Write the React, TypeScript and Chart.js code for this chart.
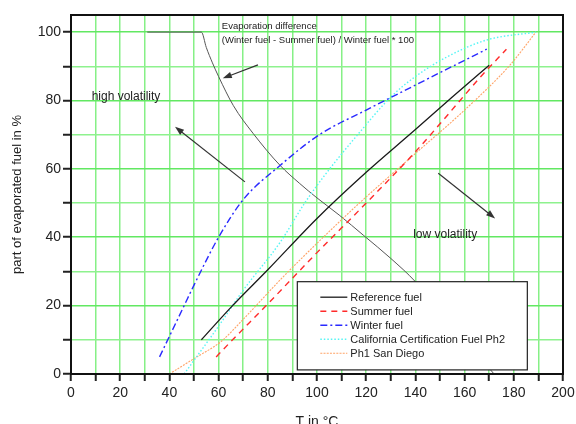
import { useEffect, useRef } from 'react';
import { Chart, registerables } from 'chart.js';

Chart.register(...registerables);

// ---- data (x = temperature in °C, y = part of evaporated fuel in %) ----
const refX = [53, 65, 80, 100, 120, 140, 155, 170];
const refY = [10, 19.5, 30.5, 45.5, 59, 71.5, 81, 90.3];

const summerX = [59, 65, 80, 100, 120, 140, 151, 166, 177];
const summerY = [5, 9.5, 20.5, 35.5, 50, 65, 74, 86.5, 95];

const winterX = [36, 40, 46, 50, 60, 70, 85, 101, 120, 140, 151, 169];
const winterY = [5, 11, 20, 26, 40, 51, 61, 70, 77.2, 84.5, 88.5, 95];

const califX = [46, 60, 70, 85, 95, 103, 117, 130, 140, 153, 169, 189];
const califY = [0, 14, 24.5, 38.5, 50, 58, 70.4, 81, 87, 92.8, 97.7, 100];

const sanDiegoX = [40, 50, 61, 70, 85, 93, 112, 118, 140, 160, 178.5, 189];
const sanDiegoY = [0, 4.5, 9.5, 16, 27.5, 33.3, 46.5, 50.5, 64.5, 77.2, 90.4, 100];

const evapX = [31, 53, 55, 57.5, 60, 66, 74, 85, 93, 100, 109, 119, 130, 140, 155, 172];
const evapY = [100, 100, 95.5, 91, 87, 78.5, 70.4, 61, 55.7, 51.5, 46.5, 40.5, 33.8, 27, 14, 0];

const seriesLabels = [
  'Reference fuel',
  'Summer fuel',
  'Winter fuel',
  'California Certification Fuel Ph2',
  'Ph1 San Diego',
];

const xTickLabels = [0, 20, 40, 60, 80, 100, 120, 140, 160, 180, 200];
const yTickLabels = [0, 20, 40, 60, 80, 100];

const annotationTexts = [
  { text: 'Evaporation difference', x: 61.3, y: 101.6, size: 9.5 },
  { text: '(Winter fuel - Summer fuel) / Winter fuel * 100', x: 61.3, y: 97.5, size: 9.5 },
  { text: 'high volatility', x: 8.4, y: 81.1, size: 12 },
  { text: 'low volatility', x: 139.1, y: 40.8, size: 12 },
];

const arrows = [
  { x1: 76, y1: 90.4, x2: 61.7, y2: 86.5 },
  { x1: 70.7, y1: 56.2, x2: 42.3, y2: 72.3 },
  { x1: 149.3, y1: 58.7, x2: 172.4, y2: 45.5 },
];

const FONT = '"Liberation Sans", Arial, sans-serif';

const styles = [
  { color: '#1a1a1a', dash: [] as number[], width: 1.3 },
  { color: '#ff2a2a', dash: [6, 5], width: 1.4 },
  { color: '#2a2aff', dash: [7, 3, 2, 3], width: 1.4 },
  { color: '#55f5f5', dash: [1.5, 2], width: 1.4 },
  { color: '#ffa366', dash: [2, 1.2], width: 1.1 },
];

const pts = (xs: number[], ys: number[]) => xs.map((x, i) => ({ x, y: ys[i] }));

const overlay = {
  id: 'overlay',
  afterDatasetsDraw(chart: any) {
    const { ctx, scales } = chart;
    const xs = scales.x;
    const ys = scales.y;
    ctx.save();
    // arrows
    ctx.strokeStyle = '#333';
    ctx.fillStyle = '#333';
    ctx.lineWidth = 1.2;
    ctx.setLineDash([]);
    arrows.forEach((a) => {
      const px1 = xs.getPixelForValue(a.x1);
      const py1 = ys.getPixelForValue(a.y1);
      const px2 = xs.getPixelForValue(a.x2);
      const py2 = ys.getPixelForValue(a.y2);
      const ang = Math.atan2(py2 - py1, px2 - px1);
      const L = 9;
      const W = 3.2;
      ctx.beginPath();
      ctx.moveTo(px1, py1);
      ctx.lineTo(px2 - Math.cos(ang) * L * 0.8, py2 - Math.sin(ang) * L * 0.8);
      ctx.stroke();
      ctx.beginPath();
      ctx.moveTo(px2, py2);
      ctx.lineTo(px2 - Math.cos(ang) * L - Math.sin(ang) * W, py2 - Math.sin(ang) * L + Math.cos(ang) * W);
      ctx.lineTo(px2 - Math.cos(ang) * L + Math.sin(ang) * W, py2 - Math.sin(ang) * L - Math.cos(ang) * W);
      ctx.closePath();
      ctx.fill();
    });
    // texts
    ctx.fillStyle = '#222';
    ctx.textAlign = 'left';
    ctx.textBaseline = 'middle';
    annotationTexts.forEach((t) => {
      ctx.font = `${t.size}px ${FONT}`;
      ctx.fillText(t.text, xs.getPixelForValue(t.x), ys.getPixelForValue(t.y));
    });
    // legend box
    const bl = xs.getPixelForValue(92);
    const br = xs.getPixelForValue(185.5);
    const bt = ys.getPixelForValue(27);
    const bb = ys.getPixelForValue(1.2);
    ctx.fillStyle = '#fff';
    ctx.fillRect(bl, bt, br - bl, bb - bt);
    ctx.strokeStyle = '#222';
    ctx.lineWidth = 1.2;
    ctx.strokeRect(bl, bt, br - bl, bb - bt);
    ctx.font = `11px ${FONT}`;
    seriesLabels.forEach((lab, i) => {
      const yy = bt + 15.5 + i * 14;
      const s = styles[i];
      ctx.strokeStyle = s.color;
      ctx.lineWidth = s.width;
      ctx.setLineDash(s.dash);
      ctx.beginPath();
      ctx.moveTo(bl + 23, yy);
      ctx.lineTo(bl + 50, yy);
      ctx.stroke();
      ctx.setLineDash([]);
      ctx.fillStyle = '#222';
      ctx.fillText(lab, bl + 53, yy + 0.5);
    });
    ctx.restore();
  },
  afterDraw(chart: any) {
    const { ctx, chartArea } = chart;
    ctx.save();
    ctx.strokeStyle = '#111';
    ctx.lineWidth = 2;
    ctx.setLineDash([]);
    ctx.strokeRect(chartArea.left, chartArea.top, chartArea.right - chartArea.left, chartArea.bottom - chartArea.top);
    ctx.restore();
  },
};

export default function App() {
  const ref = useRef<HTMLCanvasElement>(null);
  useEffect(() => {
    if (!ref.current) return;
    const mk = (i: number, xs: number[], ys: number[]) => ({
      label: seriesLabels[i],
      data: pts(xs, ys),
      borderColor: styles[i].color,
      borderWidth: styles[i].width,
      borderDash: styles[i].dash,
      pointRadius: 0,
      fill: false,
      cubicInterpolationMode: 'monotone' as const,
    });
    const chart = new Chart(ref.current, {
      type: 'line',
      data: {
        datasets: [
          mk(0, refX, refY),
          mk(1, summerX, summerY),
          mk(2, winterX, winterY),
          mk(3, califX, califY),
          mk(4, sanDiegoX, sanDiegoY),
          {
            label: 'Evaporation difference',
            data: pts(evapX, evapY),
            borderColor: '#555',
            borderWidth: 1,
            pointRadius: 0,
            fill: false,
            cubicInterpolationMode: 'monotone' as const,
          },
        ],
      },
      options: {
        animation: false,
        responsive: false,
        maintainAspectRatio: false,
        layout: { padding: { top: 15, right: 13, bottom: 0, left: 0 } },
        plugins: { legend: { display: false }, tooltip: { enabled: false } },
        scales: {
          x: {
            type: 'linear',
            min: 0,
            max: 200,
            ticks: {
              stepSize: 10,
              autoSkip: false,
              maxRotation: 0,
              padding: 4,
              color: '#222',
              font: { family: FONT, size: 14 },
              callback: (v: any) => (xTickLabels.includes(Number(v)) ? String(v) : ''),
            },
            afterBuildTicks: (s: any) => {
              s.ticks = s.ticks.filter((t: any) => t.value % 10 === 0);
            },
            afterFit: (s: any) => {
              s.height = 50;
              s.paddingLeft = 0;
              s.paddingRight = 0;
            },
            grid: {
              color: '#86f086',
              lineWidth: 1.5,
              tickColor: '#222',
              tickLength: 7,
              tickWidth: 2,
            },
            border: { display: true, color: '#111', width: 2 },
            title: {
              display: true,
              text: 'T in °C',
              color: '#222',
              font: { family: FONT, size: 14 },
              padding: { top: 0, bottom: -7 },
            },
          },
          y: {
            type: 'linear',
            min: 0,
            max: 105,
            ticks: {
              stepSize: 10,
              autoSkip: false,
              padding: 2,
              color: '#222',
              font: { family: FONT, size: 14 },
              callback: (v: any) => (yTickLabels.includes(Number(v)) ? String(v) : ''),
            },
            afterBuildTicks: (s: any) => {
              s.ticks = s.ticks.filter((t: any) => t.value % 10 === 0);
            },
            afterFit: (s: any) => {
              s.width = 71;
              s.paddingTop = 0;
              s.paddingBottom = 0;
            },
            grid: {
              color: (c: any) => (c.tick && c.tick.value % 20 === 0 ? '#62e862' : '#8ef28e'),
              lineWidth: 1.5,
              tickColor: '#222',
              tickLength: 8,
              tickWidth: 2,
            },
            border: { display: true, color: '#111', width: 2 },
            title: {
              display: true,
              text: 'part of evaporated fuel in %',
              color: '#222',
              font: { family: FONT, size: 13 },
              padding: { top: 10, bottom: 0 },
            },
          },
        },
      },
      plugins: [overlay],
    });
    return () => chart.destroy();
  }, []);
  return (
    <div style={{ position: 'absolute', left: 0, top: 0, width: 576, height: 424, background: '#fff' }}>
      <canvas ref={ref} width={576} height={424} style={{ width: 576, height: 424 }} />
    </div>
  );
}
